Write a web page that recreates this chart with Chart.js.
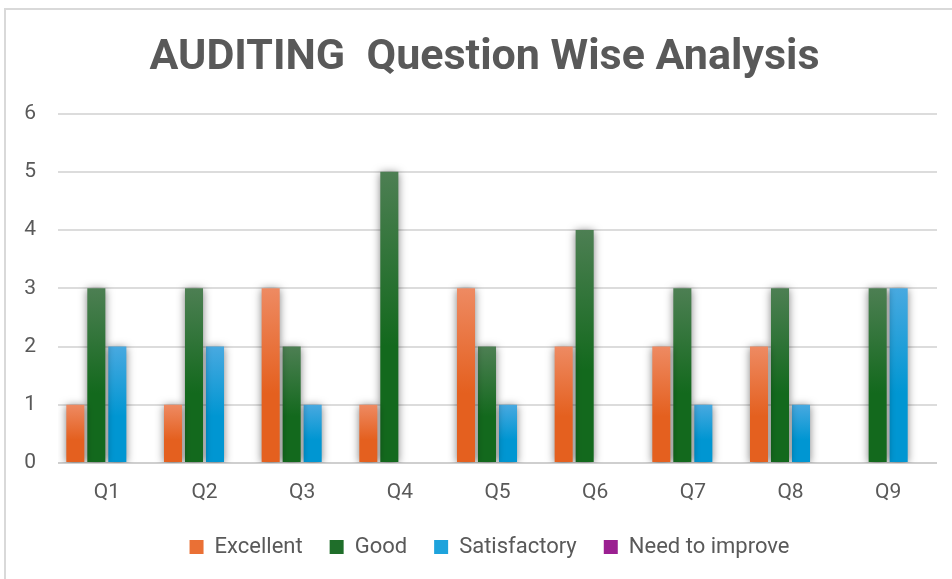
<!DOCTYPE html>
<html>
<head>
<meta charset="utf-8">
<script src="https://cdn.jsdelivr.net/npm/chart.js@4.4.1/dist/chart.umd.min.js"></script>
<style>
  html, body { margin: 0; padding: 0; background: #fff; }
  #wrap { position: relative; width: 952px; height: 579px; overflow: hidden; }
  #frame { position: absolute; left: 4px; top: 8px; width: 1000px; height: 700px;
           border: 2px solid #d9d9d9; box-sizing: border-box; }
  canvas { position: absolute; left: 0; top: 0; }
</style>
</head>
<body>
<div id="wrap">
  <div id="frame"></div>
  <canvas id="chart" width="952" height="579"></canvas>
</div>
<script>
// --- Data ---
const questions = ['Q1', 'Q2', 'Q3', 'Q4', 'Q5', 'Q6', 'Q7', 'Q8', 'Q9'];
const excellent = [1, 1, 3, 1, 3, 2, 2, 2, 0];
const good = [3, 3, 2, 5, 2, 4, 3, 3, 3];
const satisfactory = [2, 2, 1, 0, 1, 0, 1, 1, 3];
const needToImprove = [0, 0, 0, 0, 0, 0, 0, 0, 0];
const yTicks = [0, 1, 2, 3, 4, 5, 6];

const TEXT = '#595959';

// per-bar vertical gradient: light at the top of each bar, darker toward the base
function grad(top, bottom) {
    return (ctx) => {
        const chart = ctx.chart;
        const yScale = chart.scales.y;
        if (!chart.chartArea || !yScale || ctx.raw == null) return bottom;
        const y0 = yScale.getPixelForValue(ctx.raw);
        const y1 = yScale.getPixelForValue(0);
        if (y1 - y0 < 1) return bottom;
        const g = chart.ctx.createLinearGradient(0, y0, 0, y1);
        g.addColorStop(0, top);
        g.addColorStop(0.6, bottom);
        g.addColorStop(1, bottom);
        return g;
    };
}

const barShadow = {
    id: 'barShadow',
    beforeDatasetsDraw(chart) {
        const c = chart.ctx;
        c.save();
        c.shadowColor = 'rgba(0,0,0,0.5)';
        c.shadowBlur = 8;
        c.shadowOffsetX = 0;
        c.shadowOffsetY = 1;
    },
    afterDatasetsDraw(chart) {
        chart.ctx.restore();
    }
};

// title and legend in the original sit a little right of centre
const blockShift = {
    id: 'blockShift',
    afterLayout(chart) {
        if (chart.legend) {
            chart.legend.left += 11;
            chart.legend.right += 11;
        }
        if (chart.titleBlock) {
            chart.titleBlock.left += 6;
            chart.titleBlock.right += 6;
        }
    }
};

function ds(label, data, top, bottom, legendColor) {
    return {
        label: label,
        data: data,
        backgroundColor: grad(top, bottom),
        legendColor: legendColor,
        borderWidth: 0,
        categoryPercentage: 0.86,
        barPercentage: 0.86
    };
}

new Chart(document.getElementById('chart'), {
    type: 'bar',
    data: {
        labels: questions,
        datasets: [
            ds('Excellent', excellent, '#ee8a62', '#e4601f', '#ea7035'),
            ds('Good', good, '#4d7f53', '#13691d', '#1f6e2a'),
            ds('Satisfactory', satisfactory, '#48a9e0', '#0096d2', '#1ea3dc'),
            ds('Need to improve', needToImprove, '#a8359c', '#901a8a', '#9b2091')
        ]
    },
    plugins: [barShadow, blockShift],
    options: {
        responsive: false,
        animation: false,
        layout: { padding: { left: 20, right: 15, top: 0, bottom: 11 } },
        scales: {
            x: {
                grid: { display: false },
                border: { display: false },
                afterFit: (axis) => { axis.height = 46; },
                ticks: { color: TEXT, font: { family: 'Roboto', size: 21 }, padding: 9 }
            },
            y: {
                min: 0,
                max: 6,
                afterBuildTicks: (axis) => { axis.ticks = yTicks.map(v => ({ value: v })); },
                afterFit: (axis) => { axis.width = 38; },
                grid: {
                    color: (c) => c.tick && c.tick.value === 0 ? '#cfcfcf' : '#dcdcdc',
                    lineWidth: 2,
                    drawTicks: false
                },
                border: { display: false },
                ticks: { color: TEXT, font: { family: 'Roboto', size: 21 }, padding: 22 }
            }
        },
        plugins: {
            title: {
                display: true,
                text: 'AUDITING  Question Wise Analysis',
                color: TEXT,
                font: { family: 'Roboto', size: 43, weight: 'bold' },
                padding: { top: 32, bottom: 30 }
            },
            legend: {
                position: 'bottom',
                labels: {
                    color: TEXT,
                    font: { family: 'Roboto', size: 22 },
                    boxWidth: 14,
                    boxHeight: 14,
                    padding: 27,
                    generateLabels: (chart) => chart.data.datasets.map((d, i) => ({
                        text: d.label,
                        fillStyle: d.legendColor,
                        strokeStyle: d.legendColor,
                        lineWidth: 0,
                        fontColor: TEXT,
                        datasetIndex: i
                    }))
                }
            },
            tooltip: { enabled: false }
        }
    }
});
</script>
</body>
</html>
